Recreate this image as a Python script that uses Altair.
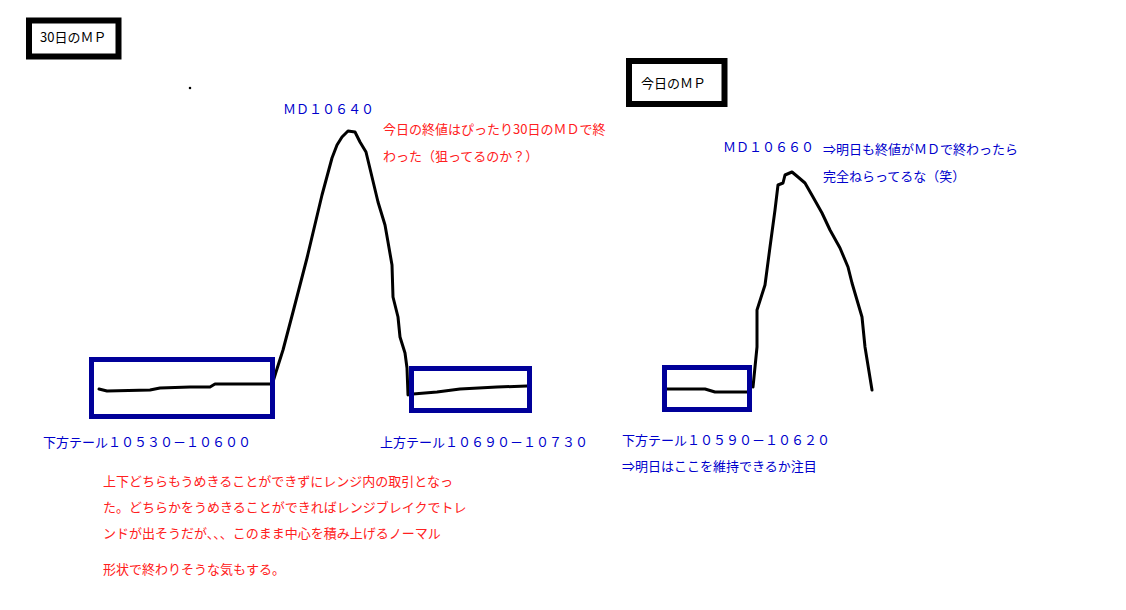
import altair as alt
import pandas as pd

# Hand-drawn profile strokes (picture coordinates, y grows downward)
peak1_x = [272, 276, 283, 293, 307, 322, 332, 337, 342, 348, 355, 360, 366, 372, 378, 385, 388, 392, 393, 398, 400, 405, 407, 408]
peak1_y = [385, 372, 350, 312, 258, 195, 158, 145, 137, 131, 132, 142, 152, 177, 202, 225, 242, 265, 297, 317, 337, 353, 368, 395]

low1_x = [99, 107, 150, 160, 190, 210, 215, 270]
low1_y = [389, 391, 390, 388, 387, 387, 384, 384]

up1_x = [413, 437, 460, 497, 527]
up1_y = [394, 392, 389, 387, 386]

peak2_x = [753, 757, 757, 765, 770, 775, 778, 783, 785, 792, 798, 805, 813, 822, 830, 840, 848, 852, 862, 865, 872]
peak2_y = [387, 347, 310, 285, 247, 210, 185, 183, 175, 172, 177, 183, 197, 213, 230, 248, 267, 283, 317, 347, 390]

low2_x = [666, 705, 715, 748]
low2_y = [389, 389, 392, 392]

# Boxes: x1, x2, y1, y2, colour, stroke
box_x1 = [91.5, 411.5, 664.5, 29, 629]
box_x2 = [272.5, 529.5, 749.5, 118.5, 724.5]
box_y1 = [359.5, 368.5, 367.5, 20.5, 61]
box_y2 = [416.5, 410.5, 409.5, 56.5, 104]
box_col = ["#000099", "#000099", "#000099", "#000000", "#000000"]
box_w = [5, 5, 5, 6, 6]

# Texts
texts = [
    "30日のＭＰ",
    "ＭＤ１０６４０",
    "今日の終値はぴったり30日のＭＤで終",
    "わった（狙ってるのか？）",
    "今日のＭＰ",
    "ＭＤ１０６６０",
    "⇒明日も終値がＭＤで終わったら",
    "完全ねらってるな（笑）",
    "下方テール１０５３０－１０６００",
    "上方テール１０６９０－１０７３０",
    "下方テール１０５９０－１０６２０",
    "⇒明日はここを維持できるか注目",
    "上下どちらもうめきることができずにレンジ内の取引となっ",
    "た。どちらかをうめきることができればレンジブレイクでトレ",
    "ンドが出そうだが、、、このまま中心を積み上げるノーマル",
    "形状で終わりそうな気もする。",
]
text_x = [40, 283, 383, 383, 641, 723, 823, 823, 43, 380, 622, 622, 103, 103, 103, 103]
text_y = [38, 110, 130, 157, 84, 148, 150, 177, 443, 443, 441, 467, 482, 508, 534, 570]
text_col = ["#000000", "#0000cc", "#ff2020", "#ff2020", "#000000", "#0000cc", "#0000cc", "#0000cc",
            "#0000cc", "#0000cc", "#0000cc", "#0000cc", "#ff2020", "#ff2020", "#ff2020", "#ff2020"]
text_size = [13] * 16

dot_x = [190]
dot_y = [88]

# ---- build tables ----
rows = []
for name, xs, ys in [("p1", peak1_x, peak1_y), ("l1", low1_x, low1_y), ("u1", up1_x, up1_y),
                     ("p2", peak2_x, peak2_y), ("l2", low2_x, low2_y)]:
    for i, (a, b) in enumerate(zip(xs, ys)):
        rows.append({"g": name, "o": i, "x": a, "y": b})
lines_df = pd.DataFrame(rows)

boxes_df = pd.DataFrame({"x1": box_x1, "x2": box_x2, "y1": box_y1, "y2": box_y2,
                         "c": box_col, "w": box_w})
text_df = pd.DataFrame({"t": texts, "x": text_x, "y": text_y, "c": text_col, "s": text_size})
dot_df = pd.DataFrame({"x": dot_x, "y": dot_y})

xs = alt.Scale(domain=[8, 1118], nice=False, zero=False)
ys = alt.Scale(domain=[8, 602], nice=False, zero=False, reverse=True)

lines = alt.Chart(lines_df).mark_line(color="black", strokeWidth=3, strokeJoin="round", strokeCap="round").encode(
    x=alt.X("x:Q", scale=xs, axis=None),
    y=alt.Y("y:Q", scale=ys, axis=None),
    detail="g:N",
    order="o:Q",
)

boxes = alt.Chart(boxes_df).mark_rect(fillOpacity=0).encode(
    x=alt.X("x1:Q", scale=xs, axis=None),
    x2="x2:Q",
    y=alt.Y("y1:Q", scale=ys, axis=None),
    y2="y2:Q",
    stroke=alt.Stroke("c:N", scale=None),
    strokeWidth=alt.StrokeWidth("w:Q", scale=None),
)

labels = alt.Chart(text_df).mark_text(align="left", baseline="middle", font="Noto Sans CJK JP").encode(
    x=alt.X("x:Q", scale=xs, axis=None),
    y=alt.Y("y:Q", scale=ys, axis=None),
    text="t:N",
    color=alt.Color("c:N", scale=None),
    size=alt.Size("s:Q", scale=None),
)

dot = alt.Chart(dot_df).mark_square(size=5, color="black", opacity=1).encode(
    x=alt.X("x:Q", scale=xs, axis=None),
    y=alt.Y("y:Q", scale=ys, axis=None),
)

chart = alt.layer(lines, boxes, labels, dot).properties(
    width=1110, height=594, padding=0, autosize=alt.AutoSizeParams(type="none"),
    background="white",
).configure_view(strokeWidth=0)

chart.save("out.html", embed_options={"renderer": "svg", "actions": False})
